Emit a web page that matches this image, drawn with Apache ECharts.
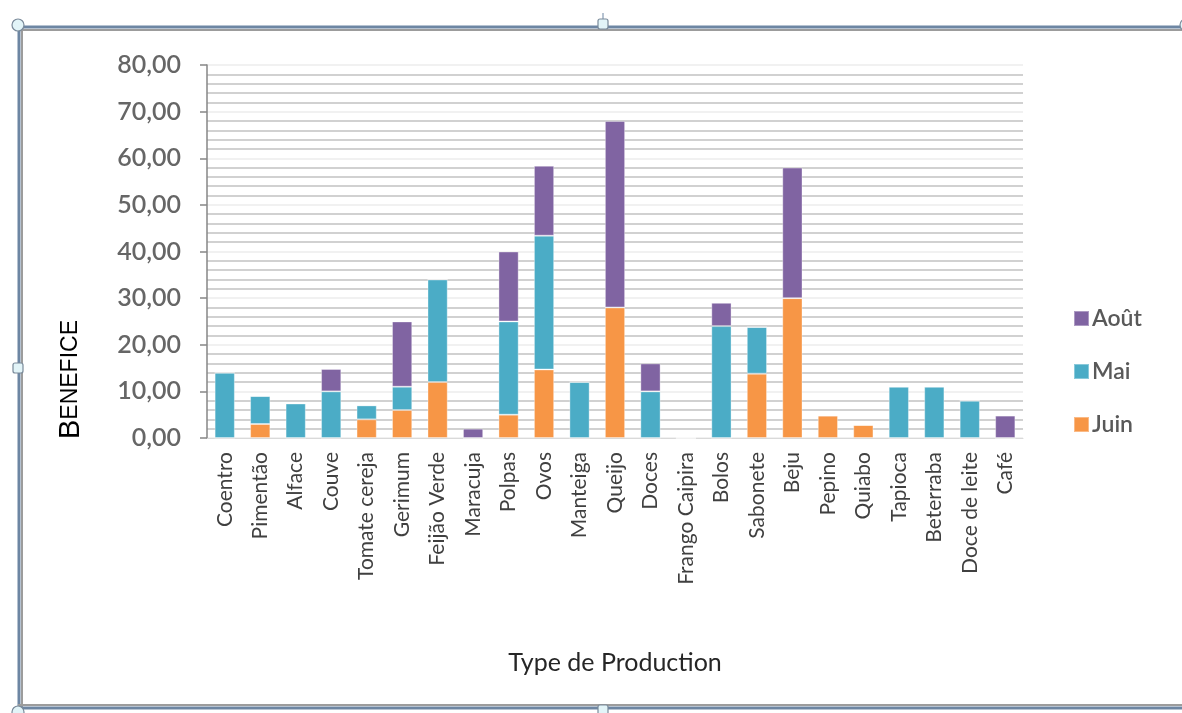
<!DOCTYPE html>
<html>
<head>
<meta charset="utf-8">
<script src="https://cdn.jsdelivr.net/npm/echarts@6/dist/echarts.min.js"></script>
<style>
html,body{margin:0;padding:0;background:#fff;}
#chart{width:1182px;height:713px;}
</style>
</head>
<body>
<div id="chart"></div>
<script>
const categories = ['Coentro','Pimentão','Alface','Couve','Tomate cereja','Gerimum','Feijão Verde','Maracuja','Polpas','Ovos','Manteiga','Queijo','Doces','Frango Caipira','Bolos','Sabonete','Beju','Pepino','Quiabo','Tapioca','Beterraba','Doce de leite','Café'];
const juin = [0, 3, 0, 0, 4, 6, 12, 0, 5, 14.7, 0, 28, 0, 0, 0, 13.8, 30, 4.8, 2.8, 0, 0, 0, 0];
const mai  = [14, 6, 7.4, 10, 3, 5, 22, 0, 20, 28.7, 12, 0, 10, 0, 24, 10, 0, 0, 0, 11, 11, 8, 0];
const aout = [0, 0, 0, 4.8, 0, 14, 0, 2, 15, 15, 0, 40, 6, 0, 5, 0, 28, 0, 0, 0, 0, 0, 4.8];
const yTicks = [0, 10, 20, 30, 40, 50, 60, 70, 80];

const chart = echarts.init(document.getElementById('chart'), null, {renderer: 'canvas'});
const font = 'Lato, "Open Sans", sans-serif';
const colJuin = '#F79646', colMai = '#4BACC6', colAout = '#8064A2';

function mk(name, data, color) {
  return {
    name: name, type: 'bar', stack: 'total', data: data, barWidth: '57%',
    itemStyle: {color: color, borderColor: 'rgba(255,255,255,0.35)', borderWidth: 1},
    emphasis: {disabled: true}
  };
}

const frameColor = '#6d86a3';
chart.setOption({
  animation: false,
  backgroundColor: '#ffffff',
  grid: {left: 207, right: 159, top: 65, bottom: 275},
  legend: {
    orient: 'vertical', left: 1068, top: 302, itemGap: 30, itemWidth: 15, itemHeight: 15,
    data: ['Août', 'Mai', 'Juin'],
    textStyle: {fontFamily: font, fontSize: 23, fontWeight: 600, color: '#595959', padding: [0,0,0,-2]},
    icon: 'rect'
  },
  xAxis: {
    type: 'category', data: categories,
    axisLine: {show: true, lineStyle: {color: '#d9d9d9', width: 1}},
    axisTick: {show: false},
    axisLabel: {rotate: 90, interval: 0, margin: 14, fontFamily: font, fontSize: 21, color: '#404040'},
    name: 'Type de Production', nameLocation: 'middle', nameGap: 212,
    nameTextStyle: {fontFamily: font, fontSize: 25, color: '#262626'}
  },
  yAxis: {
    type: 'value', min: yTicks[0], max: yTicks[yTicks.length - 1], interval: 10,
    axisLine: {show: true, lineStyle: {color: '#868686', width: 1.5}},
    axisTick: {show: true, length: 7, lineStyle: {color: '#868686', width: 1.5}},
    axisLabel: {
      margin: 26, fontFamily: font, fontSize: 25, fontWeight: 600, color: '#666666',
      formatter: v => v.toFixed(2).replace('.', ',')
    },
    splitLine: {show: true, lineStyle: {color: '#ececec', width: 1.5}},
    minorTick: {show: false, splitNumber: 5},
    minorSplitLine: {show: true, lineStyle: {color: '#c2c2c2', width: 1.6}}
  },
  graphic: [
    {type: 'text', left: 56, top: 320, rotation: Math.PI / 2, silent: true,
     style: {
       text: '{b|B}{s|ENEFICE}',
       rich: {
         b: {fontFamily: '"Liberation Sans", Arial, sans-serif', fontSize: 29, fill: '#000'},
         s: {fontFamily: '"Liberation Sans", Arial, sans-serif', fontSize: 23, fill: '#000'}
       }
     }},
    {type: 'line', silent: true, shape: {x1: 18, y1: 30, x2: 1182, y2: 30}, style: {stroke: '#9c9c9c', lineWidth: 2}},
    {type: 'line', silent: true, shape: {x1: 18, y1: 27, x2: 1182, y2: 27}, style: {stroke: frameColor, lineWidth: 3}},
    {type: 'line', silent: true, shape: {x1: 22, y1: 27, x2: 22, y2: 708}, style: {stroke: '#9c9c9c', lineWidth: 2}},
    {type: 'line', silent: true, shape: {x1: 19, y1: 27, x2: 19, y2: 708}, style: {stroke: frameColor, lineWidth: 3}},
    {type: 'line', silent: true, shape: {x1: 18, y1: 705, x2: 1182, y2: 705}, style: {stroke: '#9c9c9c', lineWidth: 2}},
    {type: 'line', silent: true, shape: {x1: 18, y1: 708, x2: 1182, y2: 708}, style: {stroke: frameColor, lineWidth: 3}},
    {type: 'circle', silent: true, shape: {cx: 18, cy: 25, r: 6}, style: {fill: '#e2f4f8', stroke: '#7a8a9a', lineWidth: 1.2}},
    {type: 'circle', silent: true, shape: {cx: 18, cy: 712, r: 6}, style: {fill: '#e2f4f8', stroke: '#7a8a9a', lineWidth: 1.2}},
    {type: 'circle', silent: true, shape: {cx: 1186, cy: 25, r: 6}, style: {fill: '#e2f4f8', stroke: '#7a8a9a', lineWidth: 1.2}},
    {type: 'line', silent: true, shape: {x1: 603, y1: 13, x2: 603, y2: 22}, style: {stroke: '#6d86a3', lineWidth: 1}},
    {type: 'rect', silent: true, shape: {x: 598, y: 19, width: 10, height: 10, r: 2}, style: {fill: '#e2f4f8', stroke: '#7a8a9a', lineWidth: 1.2}},
    {type: 'rect', silent: true, shape: {x: 598, y: 705, width: 10, height: 10, r: 2}, style: {fill: '#e2f4f8', stroke: '#7a8a9a', lineWidth: 1.2}},
    {type: 'rect', silent: true, shape: {x: 13, y: 363, width: 10, height: 10, r: 2}, style: {fill: '#e2f4f8', stroke: '#7a8a9a', lineWidth: 1.2}}
  ],
  series: [mk('Juin', juin, colJuin), mk('Mai', mai, colMai), mk('Août', aout, colAout)]
});
</script>
</body>
</html>
